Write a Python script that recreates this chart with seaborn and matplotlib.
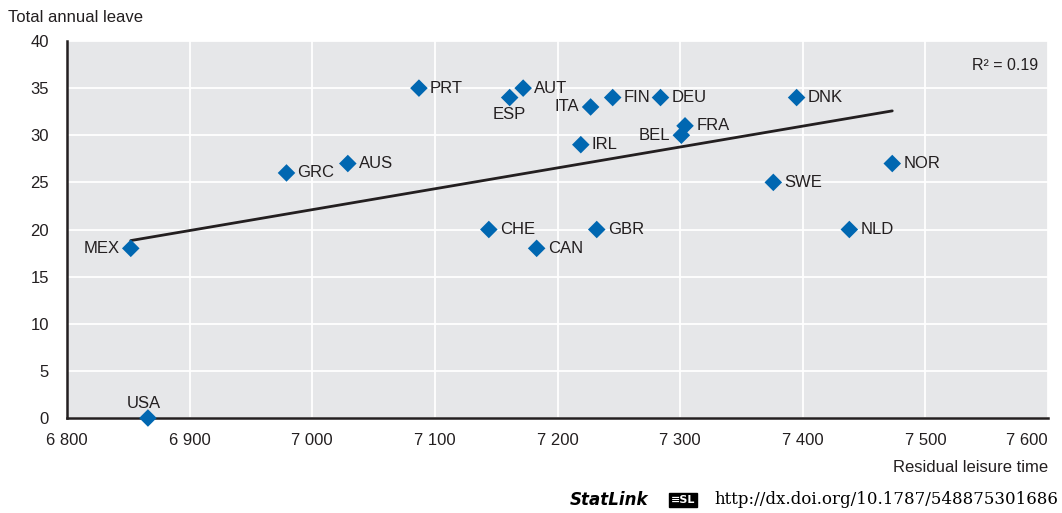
import numpy as np
import pandas as pd
import matplotlib
matplotlib.use("Agg")
import matplotlib.pyplot as plt
import seaborn as sns
from matplotlib import font_manager

countries = ["MEX", "USA", "GRC", "AUS", "PRT", "AUT", "ESP", "ITA", "FIN", "DEU",
             "IRL", "BEL", "FRA", "CHE", "CAN", "GBR", "DNK", "SWE", "NLD", "NOR"]
leisure = [6852, 6866, 6979, 7029, 7087, 7172, 7161, 7227, 7245, 7284,
           7219, 7301, 7304, 7144, 7183, 7232, 7395, 7376, 7438, 7473]
leave = [18, 0, 26, 27, 35, 35, 34, 33, 34, 34,
         29, 30, 31, 20, 18, 20, 34, 25, 20, 27]
label_side = ["left", "above", "right", "right", "right", "right", "below", "left", "right", "right",
              "right", "left", "right", "right", "right", "right", "right", "right", "right", "right"]

x_ticks = [6800, 6900, 7000, 7100, 7200, 7300, 7400, 7500, 7600]
x_tick_labels = ["6 800", "6 900", "7 000", "7 100", "7 200", "7 300", "7 400", "7 500", "7 600"]
y_ticks = [0, 5, 10, 15, 20, 25, 30, 35, 40]

df = pd.DataFrame({"country": countries, "leisure": leisure, "leave": leave, "side": label_side})

sns.set_theme(style="white")
names = {f.name for f in font_manager.fontManager.ttflist}
base = "Liberation Sans Narrow" if "Liberation Sans Narrow" in names else "Liberation Sans"
plt.rcParams["font.family"] = [base, "DejaVu Sans"]

text_c = "#231f20"
fig = plt.figure(figsize=(10.62, 5.13), dpi=100)
ax = fig.add_axes([67 / 1062, 1 - 418 / 513, (1048 - 67) / 1062, (418 - 41) / 513])
ax.set_facecolor("#e6e7e9")

ax.set_xlim(6800, 7600)
ax.set_ylim(0, 40)
ax.set_xticks(x_ticks)
ax.set_xticklabels(x_tick_labels)
ax.set_yticks(y_ticks)
ax.grid(True, color="white", linewidth=1.3)
ax.set_axisbelow(True)

# least-squares trend line over the observed range
sns.regplot(data=df, x="leisure", y="leave", ax=ax, ci=None, scatter=False,
            truncate=True, line_kws={"color": "#231f20", "linewidth": 2.0})
sns.scatterplot(data=df, x="leisure", y="leave", ax=ax, marker="D", s=80,
                color="#0067b1", edgecolor="none", zorder=5, clip_on=False)

offsets = {"right": ((8, 0), "left", "center"),
           "left": ((-8, 0), "right", "center"),
           "above": ((-3, 5), "center", "bottom"),
           "below": ((0, -7), "center", "top")}
for _, row in df.iterrows():
    (dx, dy), ha, va = offsets[row["side"]]
    ax.annotate(row["country"], (row["leisure"], row["leave"]), xytext=(dx, dy),
                textcoords="offset points", ha=ha, va=va, fontsize=12, color=text_c)

ax.text(0.99, 0.955, "R² = 0.19", transform=ax.transAxes, ha="right", va="top",
        fontsize=11.5, color=text_c)

for s in ["top", "right"]:
    ax.spines[s].set_visible(False)
for s in ["left", "bottom"]:
    ax.spines[s].set_color("#231f20")
    ax.spines[s].set_linewidth(1.8)

ax.tick_params(axis="both", direction="in", length=6, width=1.2, color="#231f20",
               labelsize=12, labelcolor=text_c)
ax.tick_params(axis="y", pad=13)
ax.tick_params(axis="x", pad=11)
ax.get_xticklabels()[-1].set_horizontalalignment("right")
ax.set_xlabel("")
ax.set_ylabel("")

fig.text(8 / 1062, 1 - 18 / 513, "Total annual leave", ha="left", va="center",
         fontsize=12, color=text_c)
fig.text(1048 / 1062, 1 - 468 / 513, "Residual leisure time", ha="right", va="center",
         fontsize=12, color=text_c)

fig.text(648 / 1062, 1 - 500 / 513, "StatLink", ha="right", va="center", fontsize=12,
         fontweight="bold", fontstyle="italic", color="#000000", family="DejaVu Sans")
fig.text(683 / 1062, 1 - 500 / 513, "≡SL", ha="center", va="center", fontsize=8,
         fontweight="bold", color="white", family="DejaVu Sans",
         bbox=dict(boxstyle="square,pad=0.15", fc="black", ec="black"))
fig.text(1058 / 1062, 1 - 500 / 513, "http://dx.doi.org/10.1787/548875301686", ha="right",
         va="center", fontsize=12, color="#000000", family="DejaVu Serif")

fig.savefig("out.png", dpi=100)
